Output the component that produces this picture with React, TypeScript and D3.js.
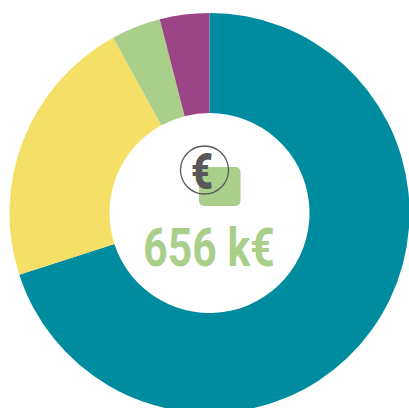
import React from "react";
import * as d3 from "d3";

const categories = ["A", "B", "C", "D"];
const shares = [70, 22, 4, 4];
const colors = ["#008c9f", "#f5df67", "#a9cf8b", "#9c4586"];
const totalLabel = "656 k€";
const iconLabel = "€";

export default function App() {
  const pie = d3.pie<number>().sort(null).value((d) => d)(shares);
  const arc = d3.arc<d3.PieArcDatum<number>>().innerRadius(100).outerRadius(200);
  return (
    <svg width={409} height={408} style={{ position: "fixed", left: 0, top: 0, background: "#fff" }}>
      <g transform="translate(209.5,213)">
        {pie.map((p, i) => (
          <path key={categories[i]} d={arc(p) ?? ""} fill={colors[i]} />
        ))}
      </g>
      <rect x={199} y={167} width={41.5} height={39} rx={5} fill="#a9cf8b" />
      <circle cx={204.5} cy={170} r={24} fill="none" stroke="#58585a" strokeWidth={1.3} />
      <text
        transform="translate(202,188.5) scale(0.76,1)"
        textAnchor="middle"
        fontFamily="Roboto, sans-serif"
        fontWeight={900}
        fontSize={50}
        fill="#58585a"
      >
        {iconLabel}
      </text>
      <text
        transform="translate(209,266) scale(0.79,1)"
        textAnchor="middle"
        fontFamily="Roboto, sans-serif"
        fontWeight={700}
        fontSize={54}
        fill="#a9cf8b"
      >
        {totalLabel}
      </text>
    </svg>
  );
}
